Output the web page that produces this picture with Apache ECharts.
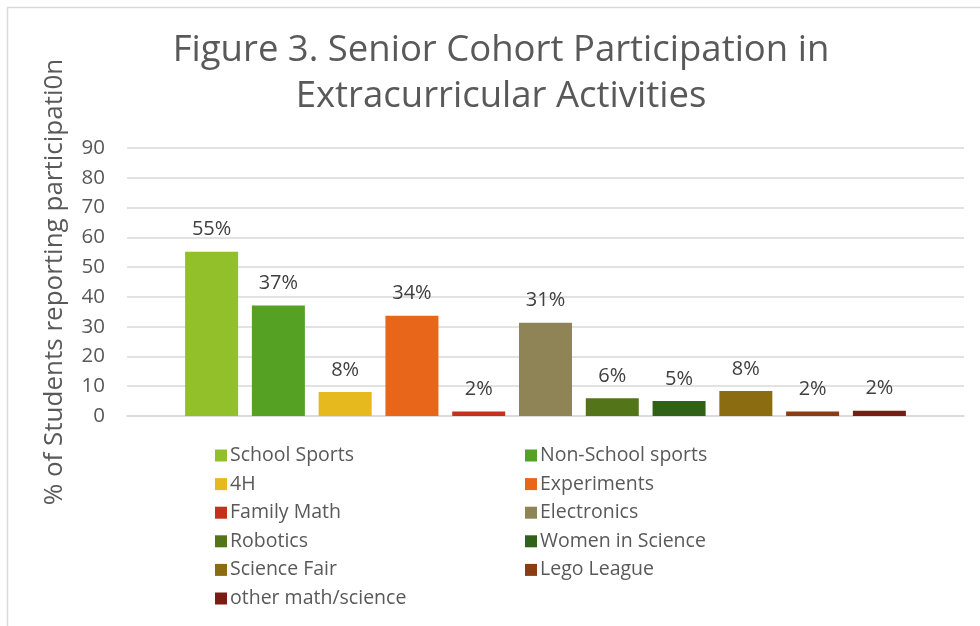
<!DOCTYPE html>
<html>
<head>
<meta charset="utf-8">
<script src="https://cdn.jsdelivr.net/npm/echarts@6/dist/echarts.min.js"></script>
<style>
  html, body { margin: 0; padding: 0; background: #fff; }
  #chart { width: 980px; height: 626px; }
</style>
</head>
<body>
<div id="chart"></div>
<script>
// activities (one series each, as in the original)
const activities = ['School Sports', 'Non-School sports', '4H', 'Experiments', 'Family Math',
  'Electronics', 'Robotics', 'Women in Science', 'Science Fair', 'Lego League', 'other math/science'];
const percents = [55.2, 37.1, 8.1, 33.7, 1.5, 31.3, 6.0, 5.0, 8.4, 1.5, 1.8];
const colors = ['#92c02a', '#55a124', '#e6b91e', '#e7661a', '#c6311c', '#8f8455',
  '#54741a', '#306117', '#8b6c11', '#8c3c12', '#7a1c12'];
const yTicks = [0, 10, 20, 30, 40, 50, 60, 70, 80, 90];

const fontFamily = 'Open Sans';
const grey = '#595959';

let dom = document.getElementById('chart');
let myChart = echarts.init(dom);

let series = activities.map(function (name, i) {
  return {
    name: name,
    type: 'bar',
    data: [percents[i]],
    barWidth: 53,
    barGap: '26%',
    itemStyle: { color: colors[i] },
    label: {
      show: true,
      position: 'top',
      distance: 12,
      color: '#404040',
      fontFamily: fontFamily,
      fontSize: 20,
      formatter: function (p) { return Math.round(p.value) + '%'; }
    }
  };
});

let legendBase = {
  orient: 'vertical',
  top: 438,
  itemWidth: 12,
  itemHeight: 12,
  itemGap: 3.6,
  icon: 'rect',
  selectedMode: false,
  textStyle: { color: grey, fontFamily: fontFamily, fontSize: 19.5, lineHeight: 25, padding: [0, 0, 0, -2] }
};

let option = {
  animation: false,
  title: {
    text: 'Figure 3. Senior Cohort Participation in\nExtracurricular Activities',
    left: 496,
    textAlign: 'center',
    top: 23,
    textStyle: { color: grey, fontFamily: fontFamily, fontSize: 36.5, fontWeight: 'normal', lineHeight: 46 }
  },
  legend: [
    Object.assign({}, legendBase, { left: 210, data: activities.filter(function (a, i) { return i % 2 === 0; }) }),
    Object.assign({}, legendBase, { left: 520, data: activities.filter(function (a, i) { return i % 2 === 1; }) })
  ],
  graphic: [{
    type: 'rect',
    shape: { x: 7.5, y: 7.5, width: 1100, height: 1100 },
    style: { fill: 'none', stroke: '#d9d9d9', lineWidth: 1.5 },
    silent: true
  }],
  grid: { left: 127, right: 16, top: 148, height: 268 },
  xAxis: {
    type: 'category',
    data: [''],
    axisLine: { show: true, lineStyle: { color: '#d9d9d9', width: 1.5 } },
    axisTick: { show: false },
    axisLabel: { show: false }
  },
  yAxis: {
    type: 'value',
    min: yTicks[0],
    max: yTicks[yTicks.length - 1],
    interval: 10,
    name: '% of Students reporting participati0n',
    nameLocation: 'middle',
    nameGap: 59,
    nameTextStyle: { color: grey, fontFamily: fontFamily, fontSize: 26 },
    axisLine: { show: false },
    axisTick: { show: false },
    axisLabel: { color: grey, fontFamily: fontFamily, fontSize: 20.5, margin: 22 },
    splitLine: { lineStyle: { color: '#d9d9d9', width: 1.5 } }
  },
  series: series
};

myChart.setOption(option);
</script>
</body>
</html>
